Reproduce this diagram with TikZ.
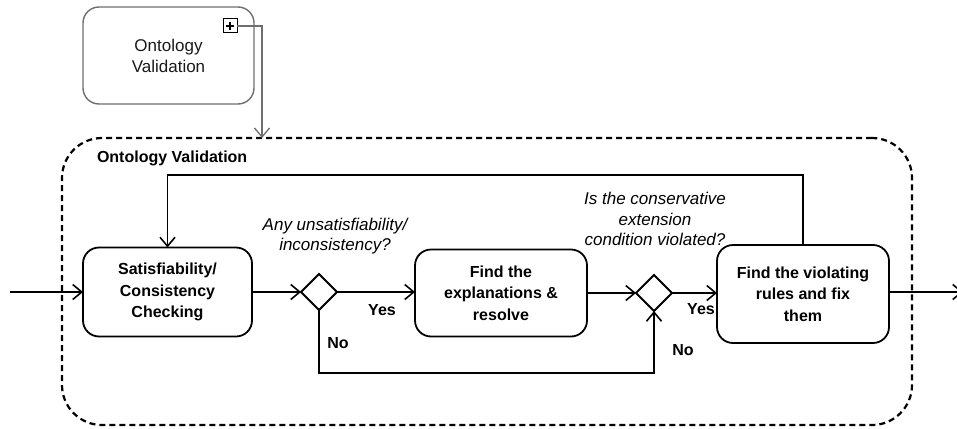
\documentclass[tikz,border=0pt]{standalone}
\usepackage{fontspec}
\setmainfont{Liberation Sans}
\usetikzlibrary{arrows.meta,shapes.geometric}
\definecolor{framegray}{HTML}{6E6E6E}
\begin{document}
\begin{tikzpicture}[x=1pt,y=-1pt,
  every node/.style={inner sep=0pt, outer sep=0pt},
  task/.style={draw, line width=1.8pt, rounded corners=16pt, align=center,
               font=\fontsize{16}{21.5}\selectfont\bfseries},
  gate/.style={draw, line width=1.8pt, diamond, minimum width=36pt, minimum height=36pt},
  flow/.style={line width=1.6pt, -{Straight Barb[length=9pt,width=15pt,line width=1.6pt]}},
  note/.style={align=center, font=\fontsize{17}{20.5}\selectfont\itshape},
  tag/.style={font=\fontsize{16}{19}\selectfont\bfseries}]
\useasboundingbox (0,0) rectangle (957,428);

% collapsed sub-process
\node[draw=framegray, line width=1.4pt, rounded corners=16pt, minimum width=171pt,
      minimum height=97pt, align=center, text=black!90,
      font=\fontsize{17}{21}\selectfont] (sub) at (168.5,55.5) {Ontology\\Validation};
\node[draw, line width=1pt, minimum width=14pt, minimum height=14pt,
      path picture={\draw[line width=1.6pt]
        ([xshift=3pt]path picture bounding box.west) -- ([xshift=-3pt]path picture bounding box.east)
        ([yshift=-3pt]path picture bounding box.north) -- ([yshift=3pt]path picture bounding box.south);}]
      (plus) at (230,26) {};

% expanded sub-process frame
\node[draw, line width=2.2pt, dash pattern=on 6pt off 4pt, rounded corners=40pt,
      minimum width=850pt, minimum height=287pt] (frame) at (487,281.5) {};
\node[tag, anchor=west] (title) at (97,158) {Ontology Validation};
\coordinate (expand) at (262,138);
\draw[line width=1.3pt, framegray, -{Straight Barb[length=9pt,width=15pt,line width=1.3pt]}]
  (plus.east) -| (expand);

% activities and gateways
\node[task, minimum width=169pt, minimum height=89pt] (b1) at (167.5,292)
  {Satisfiability/\\Consistency\\Checking};
\node[gate] (d1) at (319,292) {};
\node[task, minimum width=172pt, minimum height=87pt] (b2) at (501,293)
  {Find the\\explanations \&\\resolve};
\node[gate] (d2) at (654,293) {};
\node[task, minimum width=172pt, minimum height=98pt] (b3) at (803,294)
  {Find the violating\\rules and fix\\them};

% questions
\node[note] (q1) at (335,236) {Any unsatisfiability/\\inconsistency?};
\node[note] (q2) at (655,219) {Is the conservative\\extension\\condition violated?};

% sequence flows
\coordinate (in) at (10,292);
\coordinate (out) at (963,292);
\coordinate (loop) at (500,175);
\coordinate (skip) at (480,373);
\draw[flow] (in) -- (b1.west |- in);
\draw[flow] (b1.east |- d1) -- (d1.west);
\draw[flow] (d1.east) -- (b2.west |- d1);
\draw[flow] (b2.east |- d2) -- (d2.west);
\draw[flow] (d2.east) -- (b3.west |- d2);
\draw[flow] (b3.east |- in) -- (out);
\draw[flow] (d1.south) |- (skip) -| (d2.south);
\draw[flow] (b3.north) |- (loop) -| (b1.north);

% gateway labels
\node[tag] (yes1) at (382,310) {Yes};
\node[tag] (no1) at (338,343) {No};
\node[tag] (yes2) at (701,309) {Yes};
\node[tag] (no2) at (683,350) {No};
\end{tikzpicture}
\end{document}
